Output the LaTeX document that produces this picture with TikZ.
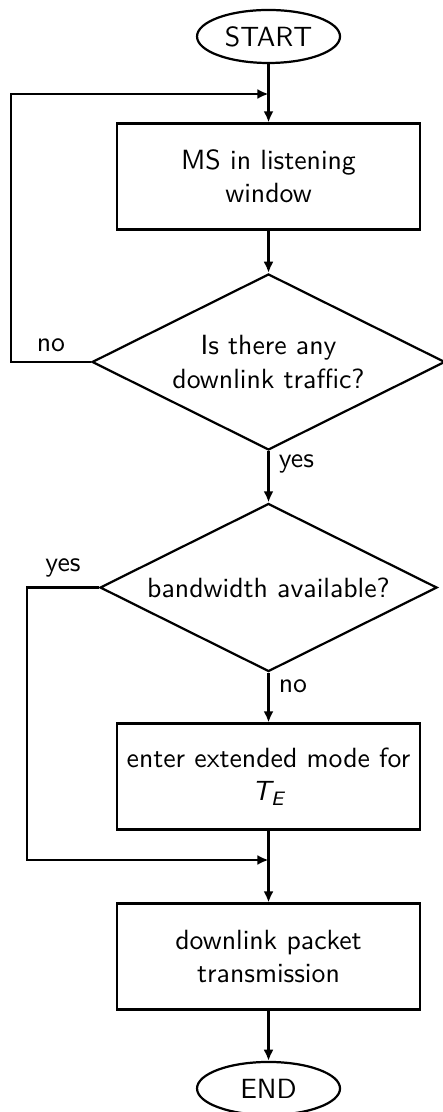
\documentclass[tikz,border=0pt]{standalone}
\usepackage{amsmath}
\usepackage{xcolor}
\usepackage{tikz}
\usetikzlibrary{arrows, arrows.meta}
\usetikzlibrary{positioning}
\usetikzlibrary{calc}
\usetikzlibrary{shapes.geometric}
\renewcommand{\familydefault}{\sfdefault}

\begin{document}
\begin{tikzpicture}[x=1cm, y=-1cm, font=\sffamily,
		terminal/.style={ellipse, draw, thick, minimum width=1.81cm, minimum height=0.671cm, inner sep=0pt},
		process/.style={rectangle, draw, thick, minimum width=3.835cm, minimum height=1.34cm, align=center, inner sep=0pt},
		decision/.style={diamond, draw, thick, aspect=2, inner sep=0pt, align=center},
		flow/.style={thick, -{Latex[length=4pt, width=3.6pt]}}]
			\useasboundingbox (0,0) rectangle (5.595,14.076);
			\node[terminal] (start) at (3.399,0.462) {START};
			\node[process] (listen) at (3.399,2.234) {MS in listening\\ window};
			\node[decision, minimum width=4.468cm, minimum height=2.228cm] (traffic) at (3.399,4.582) {Is there any\\ downlink traffic?};
			\node[decision, minimum width=4.266cm, minimum height=2.127cm] (bandwidth) at (3.399,7.437) {bandwidth available?};
			\node[process] (extend) at (3.399,9.829) {enter extended mode for\\ \textit{T\textsubscript{E}}};
			\node[process] (transmit) at (3.399,12.108) {downlink packet\\ transmission};
			\node[terminal] (end) at (3.399,13.778) {END};
			\coordinate (back) at (3.399,1.19);
			\coordinate (nocorner) at (0.139,4.582);
			\coordinate (merge) at (3.399,10.886);
			\coordinate (yescorner) at (0.342,7.437);
			\draw[flow] (start) -- (listen);
			\draw[flow] (listen) -- (traffic);
			\draw[flow] (traffic.west) -- node[above] {no} (nocorner) |- (back);
			\draw[flow] (traffic) -- node[right, pos=0.25] {yes} (bandwidth);
			\draw[flow] (bandwidth.west) -- node[above] {yes} (yescorner) |- (merge);
			\draw[flow] (bandwidth) -- node[right, pos=0.27] {no} (extend);
			\draw[flow] (extend) -- (transmit);
			\draw[flow] (transmit) -- (end);
		\end{tikzpicture}
\end{document}
